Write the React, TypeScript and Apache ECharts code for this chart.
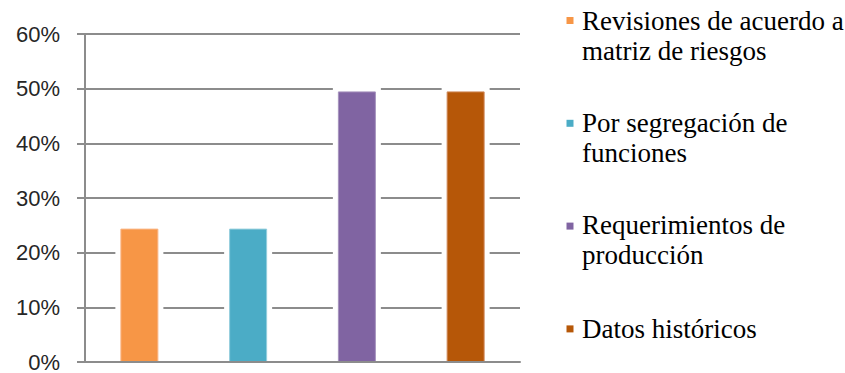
import React, { useEffect, useRef } from "react";
import * as echarts from "echarts";

const categories = [
  "Revisiones de acuerdo a matriz de riesgos",
  "Por segregación de funciones",
  "Requerimientos de producción",
  "Datos históricos",
];
const legendLabels = [
  "Revisiones de acuerdo a\nmatriz de riesgos",
  "Por segregación de\nfunciones",
  "Requerimientos de\nproducción",
  "Datos históricos",
];
const values = [0.244, 0.244, 0.495, 0.495];
const colors = ["#F79646", "#4BACC6", "#8064A2", "#B65708"];
const edgeColors = ["#FAB585", "#93CDDC", "#A693BE", "#D0895A"];

const GRID_COLOR = "#8C8C8C";
const SERIF = "Liberation Serif";

export default function App() {
  const ref = useRef<HTMLDivElement>(null);

  useEffect(() => {
    if (!ref.current) return;
    const chart = echarts.init(ref.current, null, { renderer: "svg" });

    const legendGraphics: any[] = [];
    const titles: any[] = [];
    legendLabels.forEach((label, i) => {
      const cy = 20.5 + i * 102.8;
      legendGraphics.push({
        type: "rect",
        shape: { x: 566.5, y: cy - 3.5, width: 7, height: 7 },
        style: { fill: colors[i] },
      });
      if (i < 2) {
        titles.push({
          text: label,
          left: 582,
          top: cy - 15,
          padding: 0,
          textStyle: {
            fontFamily: SERIF,
            fontSize: 27,
            fontWeight: "normal",
            color: "#000000",
            lineHeight: 30,
          },
        });
      } else if (i === 2) {
        label.split("\n").forEach((line, j) => {
          legendGraphics.push({
            type: "text",
            x: 582,
            y: cy - 15 + j * 30,
            style: { text: line, fill: "#000000", fontFamily: "serif", fontSize: 27 },
          });
        });
      } else {
        legendGraphics.push({
          type: "text",
          x: 582,
          y: cy - 15,
          style: {
            text: label
              .split("\n")
              .map((l) => "{s|" + l + "}")
              .join("\n"),
            rich: { s: { fontFamily: SERIF, fontSize: 27, lineHeight: 30, color: "#000000" } },
          },
        });
      }
    });

    chart.setOption({
      animation: false,
      backgroundColor: "#ffffff",
      title: titles,
      grid: { left: 85, right: 325, top: 34, bottom: 11, containLabel: false },
      xAxis: {
        type: "category",
        data: categories,
        z: 5,
        axisLine: { show: true, lineStyle: { color: GRID_COLOR, width: 2 } },
        axisTick: { show: false },
        axisLabel: { show: false },
        splitLine: { show: false },
      },
      yAxis: {
        type: "value",
        min: 0,
        max: 0.6,
        interval: 0.1,
        axisLine: { show: true, lineStyle: { color: GRID_COLOR, width: 2 } },
        axisTick: { show: true, inside: false, length: 8, lineStyle: { color: GRID_COLOR, width: 2 } },
        axisLabel: {
          formatter: (v: number) => Math.round(v * 100) + "%",
          margin: 25,
          fontSize: 22,
          color: "#262626",
        },
        splitLine: { show: true, lineStyle: { color: GRID_COLOR, width: 2 } },
      },
      series: [
        {
          type: "custom",
          silent: true,
          z: 2,
          data: values.map((v, i) => [i, v]),
          renderItem: (params: any, api: any) => {
            const top = api.coord([api.value(0), api.value(1)]);
            const base = api.coord([api.value(0), 0]);
            const pad = 5;
            const half = 19 + pad;
            return {
              type: "rect",
              shape: {
                x: top[0] - half,
                y: top[1] - pad,
                width: half * 2,
                height: base[1] - top[1] + pad,
              },
              style: { fill: "#ffffff" },
            };
          },
        },
        {
          type: "bar",
          barWidth: 38,
          z: 3,
          data: values.map((v, i) => ({
            value: v,
            itemStyle: { color: colors[i], borderColor: edgeColors[i], borderWidth: 1 },
          })),
        },
      ],
      graphic: legendGraphics,
    });

    return () => chart.dispose();
  }, []);

  return (
    <div
      ref={ref}
      style={{ position: "fixed", left: 0, top: 0, width: 845, height: 373 }}
    />
  );
}
